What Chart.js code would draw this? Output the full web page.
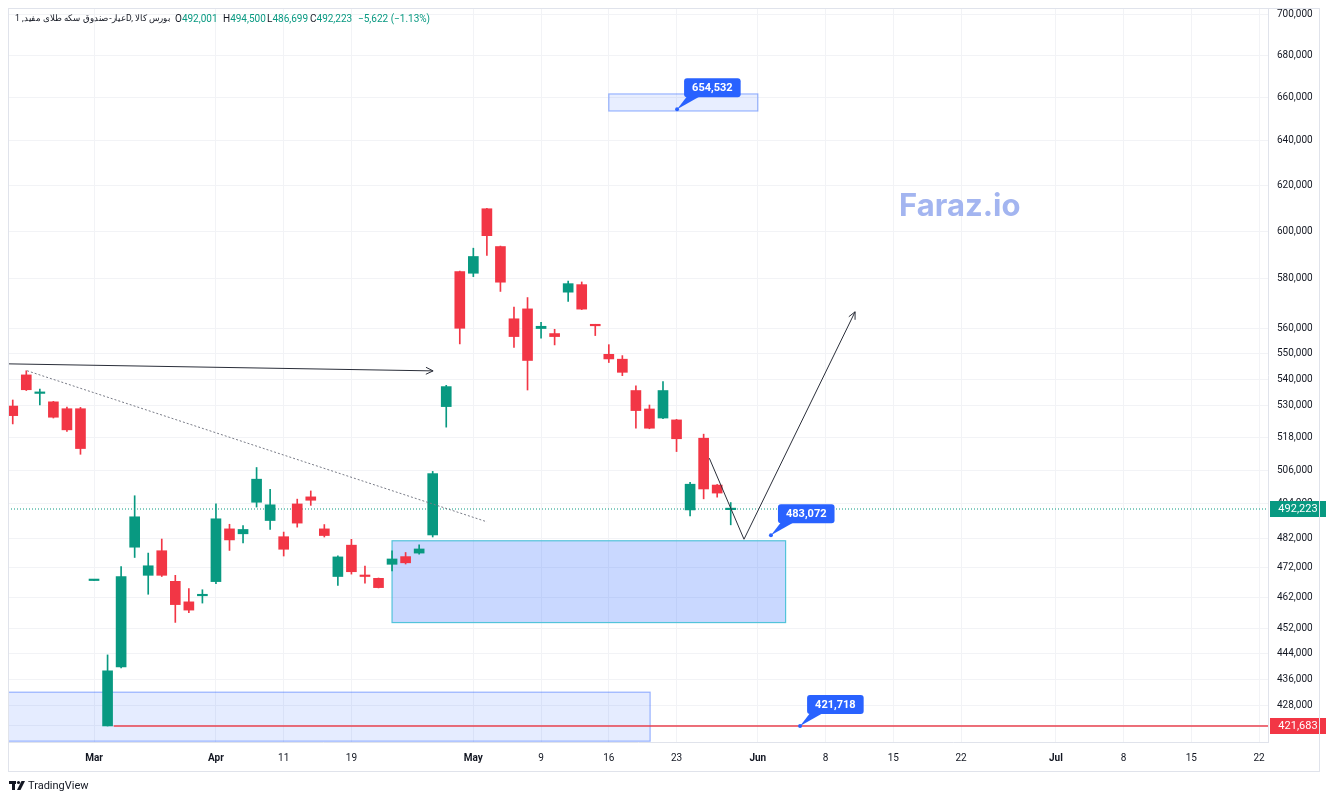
<!DOCTYPE html>
<html>
<head>
<meta charset="utf-8">
<script src="https://cdn.jsdelivr.net/npm/chart.js@4.4.1/dist/chart.umd.min.js"></script>
<style>
  body { margin: 0; background: #fff; }
  canvas { display: block; }
</style>
</head>
<body>
<canvas id="chart" width="1328" height="800"></canvas>
<script>
// daily candles, one slot per trading day
const opens  = [529700,541600,534500,531300,528700,528700,467750,421700,439800,479000,469500,477800,467500,460700,462700,467400,485300,483600,494600,488200,482600,494000,496500,485300,469100,479700,469600,468500,473200,475800,477000,483200,529500,583000,582300,609700,593500,563700,567700,559800,557800,574500,577600,561300,549600,547700,535600,528600,525200,524500,491900,517700,500700,492001];
const highs  = [532000,543200,536200,531500,529300,529200,467750,443600,472400,496900,477000,481800,469500,465100,464700,494000,486900,486400,507000,499200,484200,495700,498600,486800,476100,481700,472600,468600,477800,477200,479800,505600,537600,583200,592800,609900,593700,568400,572300,562300,559500,579100,578700,561500,553400,549100,537400,530100,539000,524700,501700,519200,500900,494500];
const lows   = [523000,535600,530100,525200,520200,511800,467750,421683,439500,475500,463200,469100,454000,457200,460300,466700,477900,480500,492900,485100,476000,485900,493500,482500,466100,469900,466900,465300,471000,473300,476600,482500,521800,553700,580900,589700,574800,552300,535800,556000,553300,570700,567400,557000,546400,541300,521400,521200,525000,512800,489800,495800,496400,486699];
const closes = [526100,535900,534700,525500,520800,513900,467750,438600,469100,489500,472700,469500,459800,458000,462850,488800,481500,485100,502800,493700,478300,487300,495300,483000,475700,470700,469100,465400,475000,473700,478400,504800,537100,559900,589300,598100,578600,556600,547200,560700,556600,578000,567600,560900,547800,542600,528000,521400,535600,517500,501000,499300,497845,492223];

const xTickPos    = [6, 15, 20, 25, 34, 39, 44, 49, 55, 60, 65, 70, 77, 82, 87, 92];
const xTickLabels = ['Mar','Apr','11','19','May','9','16','23','Jun','8','15','22','Jul','8','15','22'];
const monthNames  = ['Mar','Apr','May','Jun','Jul'];
const yTicks = [421683,428000,436000,444000,452000,462000,472000,482000,494000,506000,518000,530000,540000,550000,560000,580000,600000,620000,640000,660000,680000,700000];

const lastPrice = 492223;
const supportPrice = 421683;

const UP = '#089981', DOWN = '#f23645';
const FONT = "Roboto, 'Liberation Sans', sans-serif";

const colors = opens.map((o, i) => closes[i] >= o ? UP : DOWN);
const bodies = opens.map((o, i) => ({ x: i, y: [o, closes[i]] }));
const wicks  = opens.map((o, i) => ({ x: i, y: [lows[i], highs[i]] }));

// drawings, in (slot index, price)
const boxes = [
  { x0: 44.0, x1: 55.0, p0: 661700, p1: 653700, fill: 'rgba(41,98,255,0.11)', stroke: 'rgba(41,98,255,0.45)' },
  { x0: 28.0, x1: 57.05, p0: 481200, p1: 453950, fill: 'rgba(41,98,255,0.25)', stroke: '#52c3da' },
  { x0: -1, x1: 47.05, p0: 431970, p1: 417150, fill: 'rgba(41,98,255,0.12)', stroke: 'rgba(41,98,255,0.45)' }
];
const arrows = [
  [[-0.35, 545880], [31.03, 543150]],
  [[51.42, 510390], [53.98, 481730], [62.18, 566520]]
];
const trendLine = [[1.06, 543200], [35.01, 487740]];
const bubbles = [
  { x: 49.04, p: 654532, text: '654,532' },
  { x: 55.97, p: 483072, text: '483,072' },
  { x: 58.12, p: 421718, text: '421,718' }
];

function head(ctx, x0, y0, x1, y1) {
  const a = Math.atan2(y1 - y0, x1 - x0), L = 8;
  ctx.beginPath();
  ctx.moveTo(x1 - L * Math.cos(a - 0.45), y1 - L * Math.sin(a - 0.45));
  ctx.lineTo(x1, y1);
  ctx.lineTo(x1 - L * Math.cos(a + 0.45), y1 - L * Math.sin(a + 0.45));
  ctx.stroke();
}

function bubble(ctx, tx, ty, text) {
  ctx.font = "bold 11px " + FONT;
  const w = ctx.measureText(text).width + 16, h = 19;
  const bx = tx + 7, by = ty - 31;
  ctx.fillStyle = '#2962ff';
  ctx.beginPath();
  ctx.moveTo(tx, ty);
  ctx.lineTo(bx + 3, by + h - 1);
  ctx.lineTo(bx + 16, by + h - 1);
  ctx.closePath();
  ctx.fill();
  ctx.beginPath();
  ctx.arc(tx, ty, 2, 0, Math.PI * 2);
  ctx.fill();
  ctx.beginPath();
  ctx.roundRect(bx, by, w, h, 3);
  ctx.fill();
  ctx.fillStyle = '#fff';
  ctx.textAlign = 'center';
  ctx.textBaseline = 'middle';
  ctx.fillText(text, bx + w / 2, by + h / 2 + 0.5);
}

function axisTag(ctx, y, text, bg, right) {
  ctx.fillStyle = bg;
  ctx.fillRect(right + 2, y - 8, 56, 16);
  ctx.fillStyle = '#fff';
  ctx.font = "11px " + FONT;
  ctx.textAlign = 'center';
  ctx.textBaseline = 'middle';
  ctx.fillText(text, right + 30, y + 0.5);
}

const drawings = {
  id: 'drawings',
  beforeDatasetsDraw(chart) {
    const { ctx, chartArea: a, scales: { x, y } } = chart;
    ctx.save();
    ctx.beginPath();
    ctx.rect(a.left, a.top, a.width, a.height);
    ctx.clip();
    boxes.forEach(b => {
      const x0 = x.getPixelForValue(b.x0), x1 = x.getPixelForValue(b.x1);
      const y0 = y.getPixelForValue(b.p0), y1 = y.getPixelForValue(b.p1);
      ctx.fillStyle = b.fill;
      ctx.fillRect(x0, y0, x1 - x0, y1 - y0);
      ctx.strokeStyle = b.stroke;
      ctx.lineWidth = 1.2;
      ctx.strokeRect(x0, y0, x1 - x0, y1 - y0);
    });
    // price line of last close
    const yl = y.getPixelForValue(lastPrice);
    ctx.strokeStyle = UP;
    ctx.lineWidth = 1;
    ctx.setLineDash([1, 2]);
    ctx.beginPath();
    ctx.moveTo(a.left, yl);
    ctx.lineTo(a.right, yl);
    ctx.stroke();
    ctx.setLineDash([]);
    // support line
    const ys = y.getPixelForValue(supportPrice);
    ctx.strokeStyle = '#e8414e';
    ctx.lineWidth = 1.5;
    ctx.beginPath();
    ctx.moveTo(x.getPixelForValue(7.45), ys);
    ctx.lineTo(a.right, ys);
    ctx.stroke();
    ctx.restore();
  },
  afterDatasetsDraw(chart) {
    const { ctx, chartArea: a, scales: { x, y } } = chart;
    ctx.save();
    ctx.beginPath();
    ctx.rect(a.left, a.top, a.width, a.height);
    ctx.clip();
    // dotted trend line
    ctx.strokeStyle = '#787b86';
    ctx.lineWidth = 1;
    ctx.setLineDash([2, 2]);
    ctx.beginPath();
    ctx.moveTo(x.getPixelForValue(trendLine[0][0]), y.getPixelForValue(trendLine[0][1]));
    ctx.lineTo(x.getPixelForValue(trendLine[1][0]), y.getPixelForValue(trendLine[1][1]));
    ctx.stroke();
    ctx.setLineDash([]);
    // arrows
    ctx.strokeStyle = '#2a2e39';
    ctx.lineWidth = 1;
    arrows.forEach(pts => {
      const px = pts.map(p => [x.getPixelForValue(p[0]), y.getPixelForValue(p[1])]);
      ctx.beginPath();
      px.forEach((p, i) => i ? ctx.lineTo(p[0], p[1]) : ctx.moveTo(p[0], p[1]));
      ctx.stroke();
      const n = px.length;
      head(ctx, px[n - 2][0], px[n - 2][1], px[n - 1][0], px[n - 1][1]);
    });
    // watermark
    ctx.fillStyle = '#a3b5f0';
    ctx.font = "bold 31px Inter, 'Open Sans', sans-serif";
    ctx.textAlign = 'left';
    ctx.textBaseline = 'alphabetic';
    ctx.fillText('Faraz.io', 899, 216);
    bubbles.forEach(b => bubble(ctx, x.getPixelForValue(b.x), y.getPixelForValue(b.p), b.text));
    ctx.restore();

    // header line
    ctx.save();
    ctx.textBaseline = 'middle';
    ctx.textAlign = 'left';
    ctx.direction = 'ltr';
    ctx.font = "9px " + FONT;
    ctx.fillStyle = '#131722';
    ctx.fillText('عیار-صندوق سکه طلای مفید, 1D, بورس کالا', 15, 19, 156);
    ctx.font = "10px " + FONT;
    const parts = [['O', '492,001', 175], ['H', '494,500', 223], ['L', '486,699', 267], ['C', '492,223', 310]];
    parts.forEach(([k, v, px]) => {
      ctx.fillStyle = '#131722';
      ctx.fillText(k, px, 19);
      ctx.fillStyle = UP;
      ctx.fillText(v, px + ctx.measureText(k).width, 19);
    });
    ctx.fillStyle = UP;
    ctx.fillText('−5,622 (−1.13%)', 358, 19);
    ctx.restore();
  },
  afterDraw(chart) {
    const { ctx, chartArea: a, scales: { y } } = chart;
    ctx.save();
    axisTag(ctx, y.getPixelForValue(lastPrice), '492,223', UP, a.right);
    axisTag(ctx, y.getPixelForValue(supportPrice), '421,683', DOWN, a.right);
    // outer frame
    ctx.strokeStyle = '#e0e3eb';
    ctx.lineWidth = 1;
    ctx.strokeRect(8.5, 8.5, 1311, 763);
    // TradingView logo
    ctx.fillStyle = '#131722';
    ctx.fillRect(9, 781, 7, 3);
    ctx.fillRect(12, 781, 3, 9);
    ctx.beginPath();
    ctx.arc(18.5, 782.5, 1.6, 0, Math.PI * 2);
    ctx.fill();
    ctx.beginPath();
    ctx.moveTo(17, 790); ctx.lineTo(21.5, 781); ctx.lineTo(25, 781); ctx.lineTo(20.5, 790);
    ctx.closePath();
    ctx.fill();
    ctx.font = "11px " + FONT;
    ctx.textAlign = 'left';
    ctx.textBaseline = 'middle';
    ctx.fillText('TradingView', 28, 786);
    ctx.restore();
  }
};

new Chart(document.getElementById('chart'), {
  type: 'bar',
  data: {
    datasets: [
      { data: bodies, backgroundColor: colors, borderWidth: 0, barThickness: 10, minBarLength: 1.5, grouped: false },
      { data: wicks, backgroundColor: colors, borderWidth: 0, barThickness: 1, grouped: false }
    ]
  },
  options: {
    responsive: false,
    animation: false,
    devicePixelRatio: 1,
    layout: { padding: { left: 8, top: 8, right: 0, bottom: 30 } },
    plugins: { legend: { display: false }, tooltip: { enabled: false } },
    scales: {
      x: {
        type: 'linear', min: -0.35, max: 92.66, offset: false,
        afterBuildTicks: s => { s.ticks = xTickPos.map(v => ({ value: v })); },
        afterFit: s => { s.height = 28; s.paddingLeft = 0; s.paddingRight = 0; },
        grid: { color: '#f2f3f6', drawTicks: false, offset: false },
        border: { color: '#e0e3eb' },
        ticks: {
          autoSkip: false, maxRotation: 0, padding: 10, color: '#131722',
          font: c => ({ family: FONT, size: 10, weight: (c.tick && monthNames.includes(c.tick.label)) ? 'bold' : 'normal' }),
          callback: v => xTickLabels[xTickPos.indexOf(v)] ?? ''
        }
      },
      y: {
        type: 'logarithmic', position: 'right', min: 416900, max: 703500,
        afterBuildTicks: s => { s.ticks = yTicks.map(v => ({ value: v })); },
        afterFit: s => { s.width = 60; s.paddingTop = 0; s.paddingBottom = 0; },
        grid: { color: '#f2f3f6', drawTicks: false },
        border: { color: '#e0e3eb' },
        ticks: {
          padding: 9, color: '#131722', font: { family: FONT, size: 10 },
          callback: v => v === supportPrice ? '' : v.toLocaleString('en-US')
        }
      }
    }
  },
  plugins: [drawings]
});
</script>
</body>
</html>
